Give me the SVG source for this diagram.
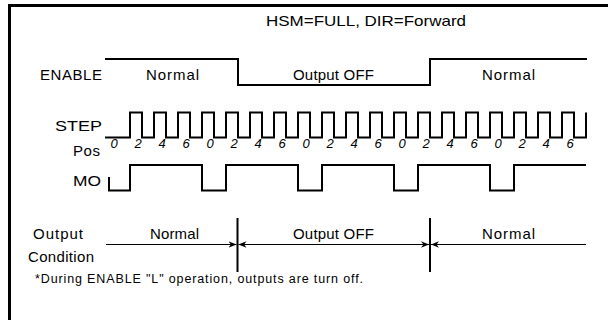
<svg xmlns="http://www.w3.org/2000/svg" width="608" height="320" viewBox="0 0 608 320">
<defs>
<style>
text{font-family:"Liberation Sans",Arial,sans-serif;fill:#000}
.lbl{font-size:15px}
.dig{font-size:13px;font-style:italic;text-anchor:middle}
.wave{fill:none;stroke:#000;stroke-width:2}
.thin{fill:none;stroke:#000;stroke-width:1.2}
.bar{stroke:#000;stroke-width:2}
</style>
<marker id="ah" viewBox="0 0 10 8" refX="10" refY="4" markerWidth="8" markerHeight="6.4" markerUnits="userSpaceOnUse" orient="auto">
<path d="M0,0 L10,4 L0,8 L3,4 Z" fill="#000"/>
</marker>
</defs>
<rect width="608" height="320" fill="#fff"/>
<path d="M9.5,320 V5.5 H608" fill="none" stroke="#000" stroke-width="3"/>
<text class="lbl" x="266" y="26" textLength="200" lengthAdjust="spacingAndGlyphs">HSM=FULL, DIR=Forward</text>

<g id="enable">
<text class="lbl" x="40" y="80" textLength="62">ENABLE</text>
<path class="wave" d="M105,59 H238 V85 H430 V59 H587"/>
<text class="lbl" x="146" y="80" textLength="53">Normal</text>
<text class="lbl" x="293" y="80" textLength="81">Output OFF</text>
<text class="lbl" x="482" y="80" textLength="53">Normal</text>
</g>

<g id="step">
<text class="lbl" x="55" y="131" textLength="47" lengthAdjust="spacingAndGlyphs">STEP</text>
<path class="wave" d="M105,137.5 H130 V112.5 H142 V137.5 H154 V112.5 H166 V137.5 H178 V112.5 H190 V137.5 H202 V112.5 H214 V137.5 H226 V112.5 H238 V137.5 H250 V112.5 H262 V137.5 H274 V112.5 H286 V137.5 H298 V112.5 H310 V137.5 H322 V112.5 H334 V137.5 H346 V112.5 H358 V137.5 H370 V112.5 H382 V137.5 H394 V112.5 H406 V137.5 H418 V112.5 H430 V137.5 H442 V112.5 H454 V137.5 H466 V112.5 H478 V137.5 H490 V112.5 H502 V137.5 H514 V112.5 H526 V137.5 H538 V112.5 H550 V137.5 H562 V112.5 H574 V137.5 H586 V112.5"/>
</g>

<g id="pos">
<text class="lbl" x="73" y="156" textLength="27">Pos</text>
<text class="dig" x="114" y="148">0</text>
<text class="dig" x="138" y="148">2</text>
<text class="dig" x="162" y="148">4</text>
<text class="dig" x="186" y="148">6</text>
<text class="dig" x="210" y="148">0</text>
<text class="dig" x="234" y="148">2</text>
<text class="dig" x="258" y="148">4</text>
<text class="dig" x="282" y="148">6</text>
<text class="dig" x="306" y="148">0</text>
<text class="dig" x="330" y="148">2</text>
<text class="dig" x="354" y="148">4</text>
<text class="dig" x="378" y="148">6</text>
<text class="dig" x="402" y="148">0</text>
<text class="dig" x="426" y="148">2</text>
<text class="dig" x="450" y="148">4</text>
<text class="dig" x="474" y="148">6</text>
<text class="dig" x="498" y="148">0</text>
<text class="dig" x="522" y="148">2</text>
<text class="dig" x="546" y="148">4</text>
<text class="dig" x="570" y="148">6</text>
</g>

<g id="mo">
<text class="lbl" x="73" y="186" textLength="28" lengthAdjust="spacingAndGlyphs">MO</text>
<path class="wave" d="M109,177 V190.5 H130 V165 H202 V190.5 H226 V165 H298 V190.5 H322 V165 H394 V190.5 H418 V165 H490 V190.5 H514 V165 H586"/>
</g>

<g id="output-condition">
<text class="lbl" x="33" y="239" textLength="50">Output</text>
<text class="lbl" x="28" y="262" textLength="66">Condition</text>
<text class="lbl" x="150" y="239" textLength="49">Normal</text>
<text class="lbl" x="293" y="239" textLength="81">Output OFF</text>
<text class="lbl" x="482" y="239" textLength="53">Normal</text>
</g>

<g id="connectors">
<line class="bar" x1="237.5" y1="218" x2="237.5" y2="272"/>
<line class="bar" x1="430" y1="218" x2="430" y2="272"/>
<line class="thin" x1="106" y1="244.5" x2="236.5" y2="244.5" marker-end="url(#ah)"/>
<line class="thin" x1="428.5" y1="244.5" x2="238.5" y2="244.5" marker-end="url(#ah)"/>
<line class="thin" x1="239" y1="244.5" x2="429" y2="244.5" marker-end="url(#ah)"/>
<line class="thin" x1="586" y1="244.5" x2="431" y2="244.5" marker-end="url(#ah)"/>
</g>

<text x="35" y="283" font-size="12.5" textLength="328">*During ENABLE "L" operation, outputs are turn off.</text>
</svg>
